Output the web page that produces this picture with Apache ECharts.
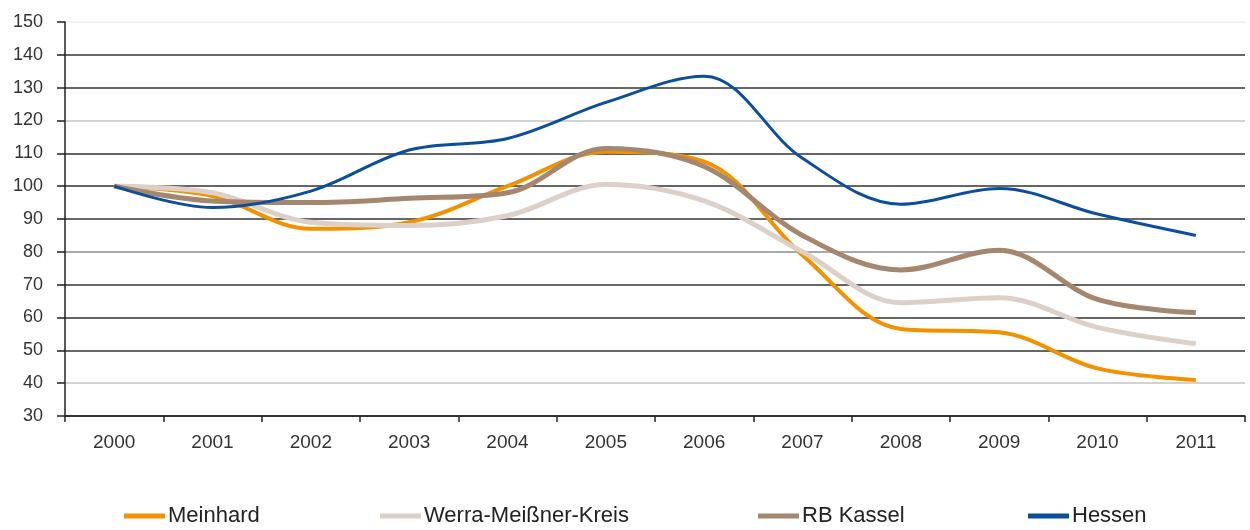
<!DOCTYPE html>
<html>
<head>
<meta charset="utf-8">
<script src="https://cdn.jsdelivr.net/npm/echarts@6/dist/echarts.min.js"></script>
<style>
  html, body { margin: 0; padding: 0; background: #fff; }
  #chart { width: 1250px; height: 530px; }
</style>
</head>
<body>
<div id="chart"></div>
<script>
const years = ['2000', '2001', '2002', '2003', '2004', '2005', '2006', '2007', '2008', '2009', '2010', '2011']

// Index 2000 = 100
const meinhard = [100, 97, 87, 89, 100, 110.5, 107.5, 79, 56.5, 55.5, 44.5, 41]
const werraMeissner = [100, 98, 89, 88, 91, 100.5, 95.5, 80, 64.5, 66, 57, 52]
const rbKassel = [100, 95.5, 95, 96.3, 98, 111.5, 106, 85, 74.5, 80.5, 65.5, 61.5]
const hessen = [100, 93.5, 98.5, 111, 114.5, 125.5, 133.5, 108.5, 94.5, 99.3, 91.5, 85]

const yTicks = { min: 30, max: 150, interval: 10 }

const colors = {
  meinhard: '#F39200',
  werra: '#DCD0C8',
  kassel: '#A5866E',
  hessen: '#0B4E9E'
}

// gridline shades from 30 up to 150
const gridColors = ['#333', '#c4c4c4', '#333', '#333', '#333', '#8c8c8c', '#333', '#333', '#333', '#c4c4c4', '#333', '#333', '#ececec']

const font = 'Liberation Sans, Arial, sans-serif'

function makeLegend(name, left) {
  return {
    data: [name],
    left: left,
    top: 505,
    icon: 'rect',
    itemWidth: 41,
    itemHeight: 5,
    itemGap: 0,
    padding: 0,
    textStyle: { fontFamily: font, fontSize: 22, color: '#222', padding: [0, 0, 0, -2] }
  }
}

function makeLine(name, data, color, width, z) {
  return {
    name: name,
    type: 'line',
    data: data,
    smooth: 0.35,
    symbol: 'none',
    z: z,
    lineStyle: { color: color, width: width },
    itemStyle: { color: color }
  }
}

const chart = echarts.init(document.getElementById('chart'))

chart.setOption({
  animation: false,
  grid: { left: 65, right: 5, top: 22, bottom: 114 },
  legend: [
    makeLegend('Meinhard', 124),
    makeLegend('Werra-Meißner-Kreis', 380),
    makeLegend('RB Kassel', 758),
    makeLegend('Hessen', 1028)
  ],
  xAxis: {
    type: 'category',
    data: years,
    boundaryGap: true,
    axisLine: { lineStyle: { color: '#222', width: 1.5 } },
    axisTick: { show: true, length: 6, lineStyle: { color: '#222', width: 1.5 } },
    axisLabel: { color: '#333', fontFamily: font, fontSize: 19, margin: 17 },
    splitLine: { show: false }
  },
  yAxis: {
    type: 'value',
    min: yTicks.min,
    max: yTicks.max,
    interval: yTicks.interval,
    axisLine: { show: true, lineStyle: { color: '#222', width: 1.5 } },
    axisTick: { show: true, length: 8, lineStyle: { color: '#222', width: 1.5 } },
    axisLabel: { color: '#333', fontFamily: font, fontSize: 18, margin: 22 },
    splitLine: { show: true, lineStyle: { color: gridColors, width: 1.5 } }
  },
  series: [
    makeLine('Meinhard', meinhard, colors.meinhard, 4, 2),
    makeLine('Werra-Meißner-Kreis', werraMeissner, colors.werra, 5, 3),
    makeLine('RB Kassel', rbKassel, colors.kassel, 5, 4),
    makeLine('Hessen', hessen, colors.hessen, 3, 5)
  ]
})
</script>
</body>
</html>
